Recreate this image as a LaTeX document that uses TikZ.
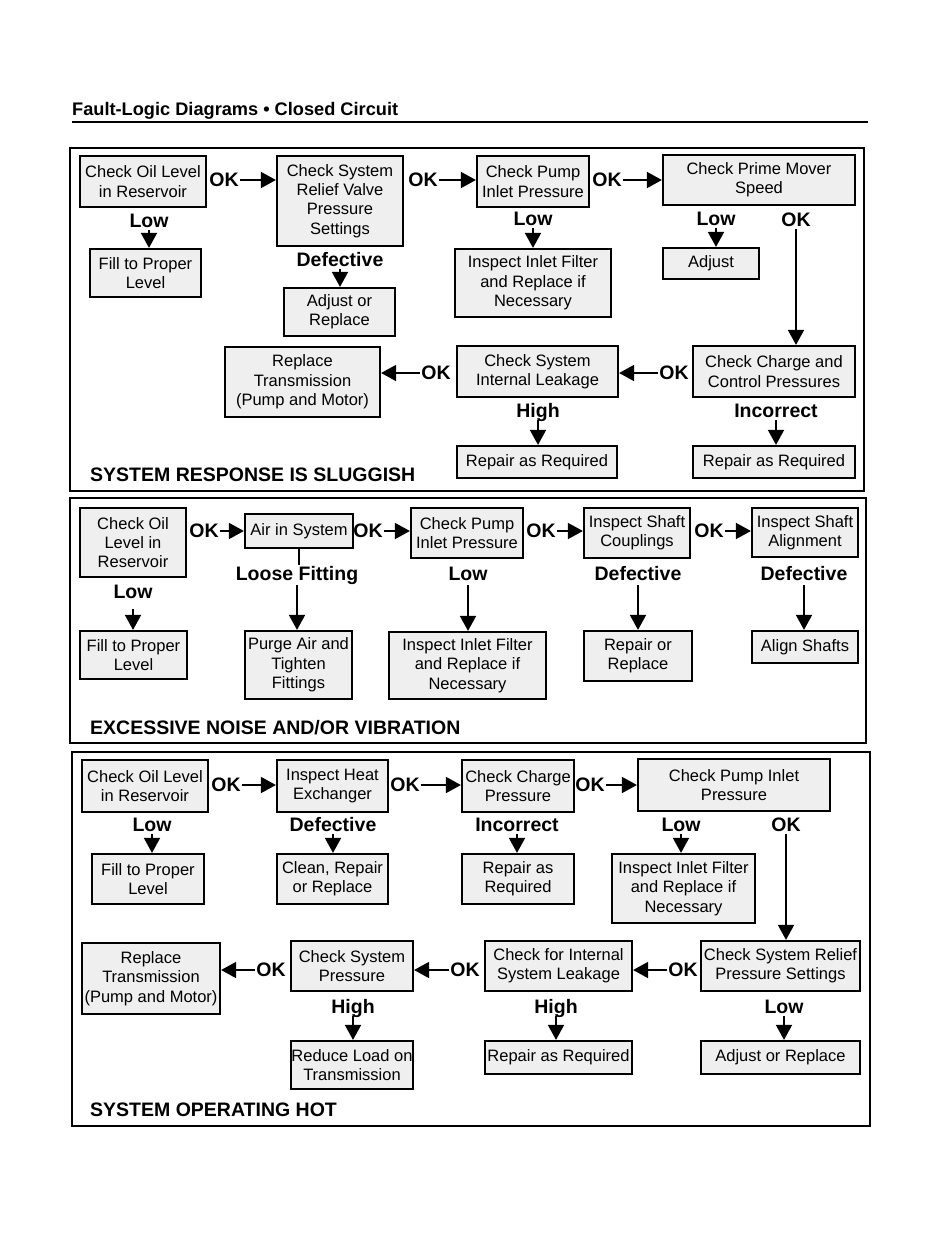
\documentclass[tikz,border=0pt]{standalone}
\usepackage{fontspec}
\setmainfont{Liberation Sans}
\usetikzlibrary{arrows.meta}
\definecolor{boxfill}{HTML}{EFEFEF}
\newcommand\mkbox[6]{\node[box, minimum width={(#4)-(#2)}, minimum height={(#5)-(#3)}] (#1) at ({((#2)+(#4))/2},{((#3)+(#5))/2}) {#6};}
\tikzset{
  box/.style={draw=black, line width=2.2pt, fill=boxfill, inner sep=1pt, align=center,
    font=\fontsize{16.5}{19.3}\selectfont},
  lbl/.style={anchor=base, inner sep=1pt, text height=0.72em, text depth=0.22em,
    font=\bfseries\fontsize{19.5}{22}\selectfont},
  okl/.style={inner sep=1pt, font=\bfseries\fontsize{19.5}{22}\selectfont},
  ttl/.style={anchor=base west, inner sep=0pt, font=\bfseries\fontsize{19.5}{22}\selectfont},
  hdr/.style={anchor=base west, inner sep=0pt, font=\bfseries\fontsize{18.2}{21}\selectfont},
  frame/.style={draw=black, line width=2.2pt},
  arr/.style={line width=1.7pt, -{Triangle[length=15pt,width=16pt]}},
  stub/.style={line width=1.7pt}
}
\begin{document}
\begin{tikzpicture}[x=1pt,y=-1pt]
\fill[white] (0,0) rectangle (950,1248);
\useasboundingbox (0,0) rectangle (950,1248);
% header
\node[hdr] (hd) at (72,115) {Fault-Logic Diagrams • Closed Circuit};
\coordinate (hl1) at (72,122);
\coordinate (hl2) at (868,122);
\draw[line width=2pt] (hl1) -- (hl2);
% frames
\draw[frame] (70,148) rectangle (864,491);
\draw[frame] (70,498) rectangle (866,743);
\draw[frame] (72,752) rectangle (870,1126);

% ===== Panel 1 =====
\mkbox{a1}{80}{156}{206}{207}{Check Oil Level\\in Reservoir}
\mkbox{a2}{277}{156}{403}{246}{Check System\\Relief Valve\\Pressure\\Settings}
\mkbox{a3}{477}{156}{589}{207}{Check Pump\\Inlet Pressure}
\mkbox{a4}{663}{155}{855}{205}{Check Prime Mover\\Speed}
\mkbox{a5}{90}{249}{201}{297}{Fill to Proper\\Level}
\mkbox{a6}{284}{288}{395}{336}{Adjust or\\Replace}
\mkbox{a7}{455}{249}{611}{317}{Inspect Inlet Filter\\and Replace if\\Necessary}
\mkbox{a8}{663}{248}{759}{279}{Adjust}
\mkbox{a9}{693}{346}{855}{397}{Check Charge and\\Control Pressures}
\mkbox{a10}{457}{346}{618}{397}{Check System\\Internal Leakage}
\mkbox{a11}{225}{347}{380}{417}{Replace\\Transmission\\(Pump and Motor)}
\mkbox{a12}{457}{446}{617}{478}{Repair as Required}
\mkbox{a13}{693}{446}{855}{478}{Repair as Required}

\node[okl] (ao1) at (224,180) {OK};
\node[okl] (ao2) at (423,180) {OK};
\node[okl] (ao3) at (607,180) {OK};
\node[okl] (ao4) at (674,373) {OK};
\node[okl] (ao5) at (436,373) {OK};
\draw[arr] (ao1.east) -- (ao1.east -| a2.west);
\draw[arr] (ao2.east) -- (ao2.east -| a3.west);
\draw[arr] (ao3.east) -- (ao3.east -| a4.west);
\draw[arr] (ao4.west) -- (ao4.west -| a10.east);
\draw[arr] (ao5.west) -- (ao5.west -| a11.east);

\node[lbl] (al1) at (149,227) {Low};
\node[lbl] (al2) at (340,266) {Defective};
\node[lbl] (al3) at (533,225) {Low};
\node[lbl] (al4) at (716,225) {Low};
\node[lbl] (al5) at (796,226) {OK};
\node[lbl] (al6) at (538,417) {High};
\node[lbl] (al7) at (776,417) {Incorrect};
\draw[arr] (al1.south) -- (al1.south |- a5.north);
\draw[arr] (al2.south) -- (al2.south |- a6.north);
\draw[arr] (al3.south) -- (al3.south |- a7.north);
\draw[arr] (al4.south) -- (al4.south |- a8.north);
\draw[arr] (al5.south) -- (al5.south |- a9.north);
\draw[arr] (al6.south) -- (al6.south |- a12.north);
\draw[arr] (al7.south) -- (al7.south |- a13.north);
\node[ttl] (t1) at (90,481) {SYSTEM RESPONSE IS SLUGGISH};

% ===== Panel 2 =====
\mkbox{b1}{80}{508}{186}{577}{Check Oil\\Level in\\Reservoir}
\mkbox{b2}{245}{514}{353}{548}{Air in System}
\mkbox{b3}{411}{508}{523}{558}{Check Pump\\Inlet Pressure}
\mkbox{b4}{584}{508}{690}{558}{Inspect Shaft\\Couplings}
\mkbox{b5}{752}{508}{858}{557}{Inspect Shaft\\Alignment}
\mkbox{b6}{80}{631}{187}{679}{Fill to Proper\\Level}
\mkbox{b7}{245}{631}{352}{699}{Purge Air and\\Tighten\\Fittings}
\mkbox{b8}{389}{632}{546}{699}{Inspect Inlet Filter\\and Replace if\\Necessary}
\mkbox{b9}{584}{631}{692}{681}{Repair or\\Replace}
\mkbox{b10}{752}{631}{858}{663}{Align Shafts}

\node[okl] (bo1) at (204,531) {OK};
\node[okl] (bo2) at (368,531) {OK};
\node[okl] (bo3) at (541,531) {OK};
\node[okl] (bo4) at (709,531) {OK};
\draw[arr] (bo1.east) -- (bo1.east -| b2.west);
\draw[arr] (bo2.east) -- (bo2.east -| b3.west);
\draw[arr] (bo3.east) -- (bo3.east -| b4.west);
\draw[arr] (bo4.east) -- (bo4.east -| b5.west);

\node[lbl] (bl1) at (133,598) {Low};
\node[lbl] (bl2) at (297,580) {Loose Fitting};
\node[lbl] (bl3) at (468,580) {Low};
\node[lbl] (bl4) at (638,580) {Defective};
\node[lbl] (bl5) at (804,580) {Defective};
\draw[stub, shorten >=7pt] (b2.south) -- (b2.south |- bl2.north);
\draw[arr, shorten <=8pt] (bl1.south) -- (bl1.south |- b6.north);
\draw[arr, shorten <=2pt] (bl2.south) -- (bl2.south |- b7.north);
\draw[arr, shorten <=2pt] (bl3.south) -- (bl3.south |- b8.north);
\draw[arr, shorten <=2pt] (bl4.south) -- (bl4.south |- b9.north);
\draw[arr, shorten <=2pt] (bl5.south) -- (bl5.south |- b10.north);
\node[ttl] (t2) at (90,734) {EXCESSIVE NOISE AND/OR VIBRATION};

% ===== Panel 3 =====
\mkbox{c1}{82}{760}{208}{812}{Check Oil Level\\in Reservoir}
\mkbox{c2}{277}{760}{388}{812}{Inspect Heat\\Exchanger}
\mkbox{c3}{462}{760}{574}{812}{Check Charge\\Pressure}
\mkbox{c4}{638}{759}{830}{811}{Check Pump Inlet\\Pressure}
\mkbox{c5}{92}{854}{204}{904}{Fill to Proper\\Level}
\mkbox{c6}{277}{854}{388}{904}{Clean, Repair\\or Replace}
\mkbox{c7}{462}{854}{574}{904}{Repair as\\Required}
\mkbox{c8}{612}{854}{755}{923}{Inspect Inlet Filter\\and Replace if\\Necessary}
\mkbox{c9}{701}{941}{860}{991}{Check System Relief\\Pressure Settings}
\mkbox{c10}{485}{941}{632}{991}{Check for Internal\\System Leakage}
\mkbox{c11}{291}{941}{413}{991}{Check System\\Pressure}
\mkbox{c12}{82}{943}{220}{1014}{Replace\\Transmission\\(Pump and Motor)}
\mkbox{c13}{291}{1041}{413}{1089}{\makebox[116pt]{Reduce Load on}\\Transmission}
\mkbox{c14}{485}{1041}{632}{1074}{Repair as Required}
\mkbox{c15}{701}{1041}{860}{1074}{Adjust or Replace}

\node[okl] (co1) at (226,785) {OK};
\node[okl] (co2) at (405,785) {OK};
\node[okl] (co3) at (590,785) {OK};
\node[okl] (co4) at (683,970) {OK};
\node[okl] (co5) at (465,970) {OK};
\node[okl] (co6) at (271,970) {OK};
\draw[arr] (co1.east) -- (co1.east -| c2.west);
\draw[arr] (co2.east) -- (co2.east -| c3.west);
\draw[arr] (co3.east) -- (co3.east -| c4.west);
\draw[arr] (co4.west) -- (co4.west -| c10.east);
\draw[arr] (co5.west) -- (co5.west -| c11.east);
\draw[arr] (co6.west) -- (co6.west -| c12.east);

\node[lbl] (cl1) at (152,831) {Low};
\node[lbl] (cl2) at (333,831) {Defective};
\node[lbl] (cl3) at (517,831) {Incorrect};
\node[lbl] (cl4) at (681,831) {Low};
\node[lbl] (cl5) at (786,831) {OK};
\node[lbl] (cl6) at (353,1013) {High};
\node[lbl] (cl7) at (556,1013) {High};
\node[lbl] (cl8) at (784,1013) {Low};
\draw[arr] (cl1.south) -- (cl1.south |- c5.north);
\draw[arr] (cl2.south) -- (cl2.south |- c6.north);
\draw[arr] (cl3.south) -- (cl3.south |- c7.north);
\draw[arr] (cl4.south) -- (cl4.south |- c8.north);
\draw[arr] (cl5.south) -- (cl5.south |- c9.north);
\draw[arr] (cl6.south) -- (cl6.south |- c13.north);
\draw[arr] (cl7.south) -- (cl7.south |- c14.north);
\draw[arr] (cl8.south) -- (cl8.south |- c15.north);
\node[ttl] (t3) at (90,1116) {SYSTEM OPERATING HOT};
\end{tikzpicture}
\end{document}
